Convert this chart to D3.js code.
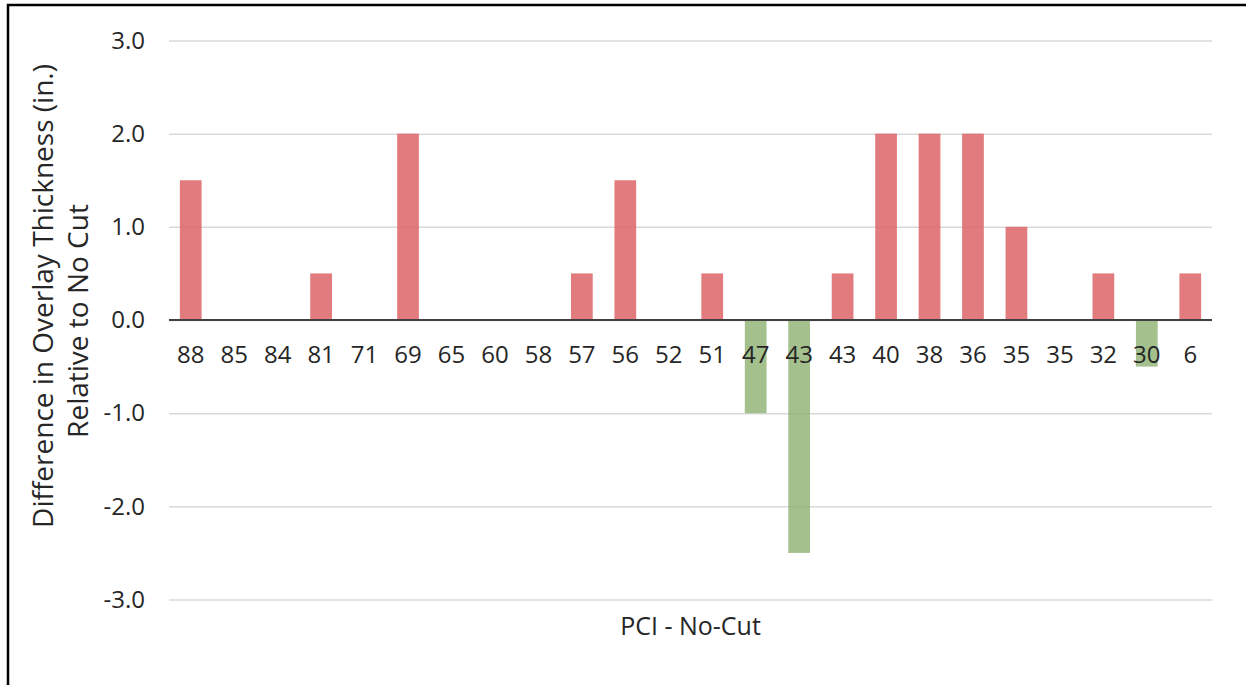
<!DOCTYPE html>
<html>
<head>
<meta charset="utf-8">
<script src="https://cdn.jsdelivr.net/npm/d3@7"></script>
<style>
  html, body { margin: 0; padding: 0; background: #fff; }
  svg { display: block; }
  text { font-family: "Open Sans", "Noto Sans", sans-serif; fill: #262626; }
</style>
</head>
<body>
<svg id="chart" width="1246" height="685"></svg>
<script>
// PCI values for each no-cut section, left to right
const categories = ["88", "85", "84", "81", "71", "69", "65", "60", "58", "57", "56", "52",
                    "51", "47", "43", "43", "40", "38", "36", "35", "35", "32", "30", "6"];
// Difference in overlay thickness (in.) relative to no cut
const values = [1.5, 0, 0, 0.5, 0, 2, 0, 0, 0, 0.5, 1.5, 0,
                0.5, -1, -2.5, 0.5, 2, 2, 2, 1, 0, 0.5, -0.5, 0.5];
const yTicks = [3, 2, 1, 0, -1, -2, -3];
const yTitle = ["Difference in Overlay Thickness (in.)", "Relative to No Cut"];
const xTitle = "PCI - No-Cut";

const svg = d3.select("#chart");
const W = 1246, H = 685;
const m = { left: 169, right: 1212, top: 40.5, bottom: 599.5 };

// outer frame
svg.append("rect")
  .attr("x", 8).attr("y", 5).attr("width", W + 10).attr("height", H + 10)
  .attr("fill", "none").attr("stroke", "#000").attr("stroke-width", 2.5);

const x = d3.scaleBand()
  .domain(d3.range(categories.length))
  .range([m.left, m.right])
  .paddingInner(0.5).paddingOuter(0.25);

const y = d3.scaleLinear().domain([-3, 3]).range([m.bottom, m.top]);

// horizontal gridlines + tick labels (plain hyphen for negatives)
const fmt = d => d.toFixed(1);
const yAxis = d3.axisLeft(y).tickValues(yTicks).tickFormat(fmt)
  .tickSize(-(m.right - m.left)).tickPadding(24);
const gy = svg.append("g").attr("transform", `translate(${m.left},0)`).call(yAxis);
gy.select(".domain").remove();
gy.selectAll(".tick line").attr("stroke", "#d9d9d9").attr("stroke-width", 1.5);
gy.selectAll(".tick text").style("font-size", "24px").style("font-family", null).attr("fill", "#262626");

// bars
svg.append("g").selectAll("rect")
  .data(values)
  .join("rect")
  .attr("x", (d, i) => x(i))
  .attr("width", x.bandwidth())
  .attr("y", d => y(Math.max(0, d)))
  .attr("height", d => Math.abs(y(d) - y(0)))
  .attr("fill", d => d < 0 ? "#8cb070" : "#dd6466")
  .attr("fill-opacity", d => d < 0 ? 0.8 : 0.85);

// zero baseline
svg.append("line")
  .attr("x1", m.left).attr("x2", m.right)
  .attr("y1", y(0)).attr("y2", y(0))
  .attr("stroke", "#404040").attr("stroke-width", 2);

// category labels just below the baseline
svg.append("g").selectAll("text")
  .data(categories)
  .join("text")
  .attr("x", (d, i) => x(i) + x.bandwidth() / 2)
  .attr("y", y(0) + 43)
  .attr("text-anchor", "middle")
  .style("font-size", "24px")
  .text(d => d);

// axis titles
svg.append("text")
  .attr("x", (m.left + m.right) / 2).attr("y", 635)
  .attr("text-anchor", "middle")
  .style("font-size", "25px")
  .text(xTitle);

const titlePos = [{ bx: 53, cy: 296 }, { bx: 88, cy: 321 }];
svg.append("g").selectAll("text")
  .data(yTitle)
  .join("text")
  .attr("transform", (d, i) => `translate(${titlePos[i].bx},${titlePos[i].cy}) rotate(-90)`)
  .attr("text-anchor", "middle")
  .style("font-size", "28px")
  .text(d => d);
</script>
</body>
</html>
